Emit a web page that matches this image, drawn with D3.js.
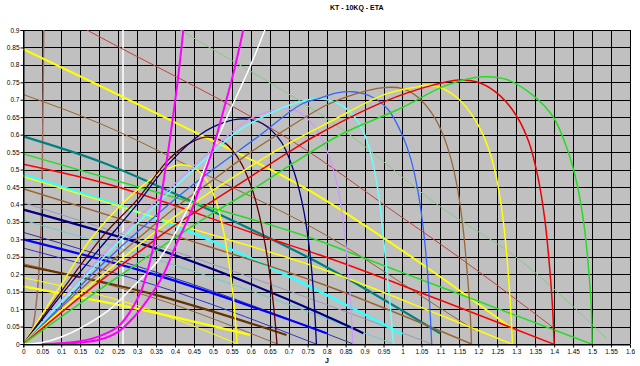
<!DOCTYPE html>
<html><head><meta charset="utf-8">
<script src="https://cdn.jsdelivr.net/npm/d3@7"></script>
<style>body{margin:0;background:#fff}svg text{font-family:"Liberation Sans",Arial,sans-serif}</style>
</head><body><svg id="c" width="640" height="366"></svg>
<script>
// ---------- DATA ----------
const xTicks = [0,0.05,0.1,0.15,0.2,0.25,0.3,0.35,0.4,0.45,0.5,0.55,0.6,0.65,0.7,0.75,0.8,0.85,0.9,0.95,1,1.05,1.1,1.15,1.2,1.25,1.3,1.35,1.4,1.45,1.5,1.55,1.6];
const yTicks = [0,0.05,0.1,0.15,0.2,0.25,0.3,0.35,0.4,0.45,0.5,0.55,0.6,0.65,0.7,0.75,0.8,0.85,0.9];

// ETA curves [J, eta]
const etaP1 = [[0,0],[0.1,0.17],[0.176,0.298],[0.25,0.39],[0.3,0.441],[0.36,0.49],[0.41,0.513],[0.45,0.505],[0.48,0.475],[0.505,0.42],[0.525,0.34],[0.544,0.22],[0.556,0.11],[0.564,0]];
const etaP2 = [[0,0],[0.1,0.15],[0.212,0.312],[0.3,0.413],[0.38,0.525],[0.43,0.57],[0.48,0.593],[0.53,0.578],[0.571,0.525],[0.6,0.455],[0.62,0.38],[0.637,0.29],[0.65,0.2],[0.661,0.1],[0.669,0]];
const etaP3 = [[0,0],[0.1,0.14],[0.2,0.272],[0.3,0.4],[0.378,0.51],[0.466,0.6],[0.53,0.635],[0.58,0.645],[0.63,0.632],[0.68,0.58],[0.715,0.49],[0.74,0.38],[0.757,0.25],[0.767,0.12],[0.773,0]];
const etaP4 = [[0,0],[0.1,0.125],[0.2,0.245],[0.3,0.36],[0.4,0.46],[0.5,0.56],[0.59,0.64],[0.669,0.672],[0.72,0.668],[0.765,0.628],[0.8,0.556],[0.827,0.46],[0.846,0.33],[0.86,0.17],[0.869,0]];
const etaP5 = [[0,0],[0.1,0.12],[0.2,0.235],[0.3,0.345],[0.4,0.45],[0.48,0.53],[0.563,0.608],[0.63,0.65],[0.703,0.685],[0.77,0.703],[0.83,0.69],[0.87,0.655],[0.9,0.6],[0.922,0.52],[0.938,0.42],[0.952,0.28],[0.965,0.14],[0.976,0]];
const etaP6 = [[0,0],[0.1,0.11],[0.2,0.22],[0.3,0.32],[0.4,0.415],[0.5,0.5],[0.625,0.599],[0.73,0.685],[0.783,0.705],[0.827,0.72],[0.87,0.723],[0.92,0.708],[0.962,0.672],[0.997,0.605],[1.022,0.53],[1.042,0.43],[1.057,0.31],[1.069,0.16],[1.077,0]];
const etaP7 = [[0,0],[0.1,0.105],[0.2,0.205],[0.3,0.3],[0.4,0.39],[0.5,0.47],[0.6,0.55],[0.669,0.599],[0.8,0.685],[0.87,0.715],[0.95,0.735],[1.0,0.732],[1.04,0.708],[1.075,0.665],[1.105,0.605],[1.128,0.53],[1.146,0.44],[1.16,0.33],[1.171,0.2],[1.178,0.1],[1.182,0]];
const etaP8 = [[0,0],[0.1,0.097],[0.2,0.19],[0.3,0.28],[0.4,0.365],[0.5,0.44],[0.6,0.51],[0.7,0.575],[0.809,0.637],[0.95,0.714],[1.037,0.737],[1.065,0.742],[1.1,0.735],[1.15,0.7],[1.19,0.645],[1.22,0.58],[1.243,0.5],[1.26,0.4],[1.273,0.28],[1.283,0.14],[1.29,0]];
const etaP9 = [[0,0],[0.1,0.09],[0.2,0.178],[0.3,0.26],[0.4,0.34],[0.5,0.41],[0.6,0.48],[0.7,0.55],[0.774,0.599],[0.95,0.694],[1.08,0.742],[1.152,0.757],[1.205,0.748],[1.257,0.712],[1.3,0.655],[1.333,0.58],[1.357,0.48],[1.375,0.36],[1.388,0.22],[1.396,0.1],[1.4,0]];
const etaP10 = [[0,0],[0.1,0.078],[0.2,0.155],[0.3,0.23],[0.4,0.305],[0.5,0.375],[0.6,0.44],[0.7,0.51],[0.835,0.599],[0.994,0.675],[1.117,0.742],[1.213,0.766],[1.275,0.758],[1.345,0.712],[1.398,0.65],[1.434,0.56],[1.46,0.46],[1.479,0.34],[1.492,0.2],[1.498,0.1],[1.5,0]];

// KT curves [J, KT]
const ktP1 = [[0,0.19],[0.3,0.11],[0.565,0]];
const ktP2 = [[0,0.23],[0.35,0.13],[0.67,0]];
const ktP3 = [[0,0.275],[0.4,0.15],[0.772,0]];
const ktP4 = [[0,0.32],[0.45,0.17],[0.87,0]];
const ktP5 = [[0,0.355],[0.5,0.19],[0.976,0]];
const ktP6 = [[0,0.405],[0.55,0.21],[0.782,0.12],[1.077,0]];
const ktP7 = [[0,0.445],[0.4,0.31],[0.782,0.174],[1.182,0]];
const ktP8 = [[0,0.48],[0.4,0.345],[0.782,0.217],[1.099,0.083],[1.288,0]];
const ktP9 = [[0,0.515],[0.2,0.465],[0.66,0.298],[0.782,0.255],[1.099,0.126],[1.398,0]];
const ktP10 = [[0,0.545],[0.4,0.42],[0.782,0.295],[0.914,0.24],[1.099,0.164],[1.498,0]];

// 10KQ curves [J, 10KQ]
const kqP1 = [[0,0.165],[0.334,0.093],[0.598,0.026]];
const kqP2 = [[0,0.225],[0.334,0.145],[0.694,0.026]];
const kqP3 = [[0,0.30],[0.334,0.203],[0.8,0.031]];
const kqP4 = [[0,0.385],[0.334,0.279],[0.782,0.088],[0.897,0.031]];
const kqP5 = [[0,0.485],[0.492,0.298],[0.782,0.15],[1.0,0.028]];
const kqP6 = [[0,0.595],[0.202,0.523],[0.492,0.384],[0.782,0.231],[1.099,0.031]];
const kqP7 = [[0,0.715],[0.202,0.632],[0.492,0.48],[0.782,0.322],[1.099,0.103],[1.19,0.04]];
const kqP8 = [[0,0.845],[0.4,0.635],[0.782,0.422],[1.037,0.24],[1.288,0.045]];
const kqP9 = [[0,1.0],[0.168,0.9],[0.782,0.53],[0.958,0.394],[1.16,0.24],[1.4,0.045]];
const kqP10 = [[0,1.177],[0.422,0.895],[0.844,0.613],[1.099,0.394],[1.31,0.24],[1.538,0.016]];

// other curves
const magentaA = [[0.05,0],[0.1,0.002],[0.15,0.008],[0.2,0.022],[0.25,0.05],[0.28,0.09],[0.31,0.15],[0.33,0.22],[0.345,0.29],[0.357,0.37],[0.369,0.46],[0.383,0.56],[0.396,0.66],[0.41,0.78],[0.422,0.9]];
const magentaB = [[0.08,0],[0.15,0.004],[0.2,0.012],[0.25,0.035],[0.29,0.075],[0.33,0.13],[0.37,0.2],[0.405,0.29],[0.439,0.37],[0.475,0.48],[0.5,0.56],[0.528,0.67],[0.555,0.78],[0.58,0.9]];
const whiteCurve = [[0,0],[0.05,0.004],[0.1,0.02],[0.158,0.05],[0.229,0.1],[0.29,0.165],[0.36,0.245],[0.43,0.38],[0.5,0.56],[0.554,0.69],[0.6,0.8],[0.637,0.9]];
const whiteVertical = [[0.263,0],[0.263,0.9]];
const brownSteep = [[0,0],[0.02,0.03],[0.03,0.08],[0.038,0.16],[0.044,0.26],[0.047,0.35],[0.05,0.5],[0.052,0.7],[0.054,0.9]];

// ---------- STYLES ----------
const series = [
  {d:whiteVertical,c:"#ffffff",w:1.5,k:"s"},
  {d:brownSteep,c:"#a06a60",w:1.5,k:"c"},
  {d:kqP10,c:"#88c888",w:1,k:"m"},
  {d:kqP9,c:"#c04040",w:1,k:"m"},
  {d:kqP7,c:"#996633",w:1,k:"m"},
  {d:ktP1,c:"#ffff00",w:1,k:"m"},
  {d:ktP2,c:"#996633",w:1,k:"m"},
  {d:ktP3,c:"#3333cc",w:1,k:"m"},
  {d:ktP4,c:"#333399",w:1,k:"m"},
  {d:ktP5,c:"#66cccc",w:1,k:"m"},
  {d:ktP6,c:"#9999bb",w:1,k:"m"},
  {d:kqP1,c:"#ffff00",w:2.2,k:"m"},
  {d:kqP2,c:"#663300",w:2.2,k:"m"},
  {d:kqP3,c:"#0000ff",w:2.2,k:"m"},
  {d:kqP4,c:"#000080",w:2.2,k:"m"},
  {d:kqP5,c:"#33ffff",w:2.5,k:"m"},
  {d:kqP6,c:"#008080",w:2.2,k:"m"},
  {d:kqP8,c:"#ffff00",w:2,k:"m"},
  {d:ktP7,c:"#996633",w:1.5,k:"m"},
  {d:ktP8,c:"#ffff00",w:1.5,k:"m"},
  {d:ktP9,c:"#ff0000",w:1.5,k:"m"},
  {d:ktP10,c:"#22dd22",w:1.5,k:"m"},
  {d:etaP1,c:"#ffff00",w:1.5,k:"c"},
  {d:etaP2,c:"#660000",w:1.3,k:"c"},
  {d:etaP3,c:"#000080",w:1.3,k:"c"},
  {d:etaP4,c:"#cc99ff",w:1.3,k:"c"},
  {d:etaP5,c:"#66ffff",w:1.5,k:"c"},
  {d:etaP6,c:"#3366ff",w:1.3,k:"c"},
  {d:etaP7,c:"#996633",w:1.3,k:"c"},
  {d:etaP8,c:"#ffff00",w:1.5,k:"c"},
  {d:etaP9,c:"#ee0000",w:1.5,k:"c"},
  {d:etaP10,c:"#22dd22",w:1.5,k:"c"},
  {d:whiteCurve,c:"#ffffff",w:1.5,k:"c"},
  {d:magentaA,c:"#ff00ff",w:2,k:"c"},
  {d:magentaB,c:"#ff00ff",w:2,k:"c"}
];

// ---------- CHART ----------
const svg = d3.select("#c");
const L = 23.3, R = 630, T = 30, B = 344;
const x = d3.scaleLinear().domain([0,1.6]).range([L,R]);
const y = d3.scaleLinear().domain([0,0.9]).range([B,T]);
const fmt = v => String(+v.toFixed(2));

svg.append("rect").attr("x",L).attr("y",T).attr("width",R-L).attr("height",B-T).attr("fill","#c0c0c0");
svg.append("defs").append("clipPath").attr("id","clip")
  .append("rect").attr("x",L).attr("y",T).attr("width",R-L).attr("height",B-T);

const grid = svg.append("g");
xTicks.forEach(t=>{
  const px = Math.round(x(t))+0.5;
  grid.append("line").attr("x1",px).attr("x2",px).attr("y1",T).attr("y2",B).attr("stroke","#000").attr("stroke-width",1);
});
yTicks.forEach(t=>{
  const py = Math.round(y(t))+0.5;
  grid.append("line").attr("x1",L).attr("x2",R).attr("y1",py).attr("y2",py).attr("stroke","#000").attr("stroke-width",1);
});

const curves = {
  c: d3.line().x(d=>x(d[0])).y(d=>y(d[1])).curve(d3.curveCatmullRom.alpha(0.5)),
  m: d3.line().x(d=>x(d[0])).y(d=>y(d[1])).curve(d3.curveMonotoneX),
  s: d3.line().x(d=>x(d[0])).y(d=>y(d[1]))
};
const g = svg.append("g").attr("clip-path","url(#clip)");
series.forEach(s=>{
  g.append("path").attr("d", curves[s.k](s.d))
   .attr("fill","none").attr("stroke",s.c).attr("stroke-width",s.w).attr("stroke-linejoin","round");
});

// axes
const xAxis = d3.axisBottom(x).tickValues(xTicks).tickFormat(fmt).tickSize(3).tickPadding(2);
const yAxis = d3.axisLeft(y).tickValues(yTicks).tickFormat(fmt).tickSize(3).tickPadding(1);
const gx = svg.append("g").attr("transform",`translate(0,${Math.round(B)+0.5})`).call(xAxis);
const gy = svg.append("g").attr("transform",`translate(${Math.round(L)+0.5},0)`).call(yAxis);
[gx,gy].forEach(a=>{
  a.select(".domain").attr("stroke","#000");
  a.selectAll(".tick line").attr("stroke","#000");
  a.selectAll(".tick text").attr("fill","#000").style("font-size","6.5px").style("font-family","'Liberation Sans',Arial,sans-serif");
});

svg.append("text").attr("x",330).attr("y",10).text("KT - 10KQ - ETA")
  .style("font-size","7px").style("font-weight","bold").attr("fill","#000");
svg.append("text").attr("x",327).attr("y",363).attr("text-anchor","middle").text("J")
  .style("font-size","7px").style("font-weight","bold").attr("fill","#000");
</script></body></html>
